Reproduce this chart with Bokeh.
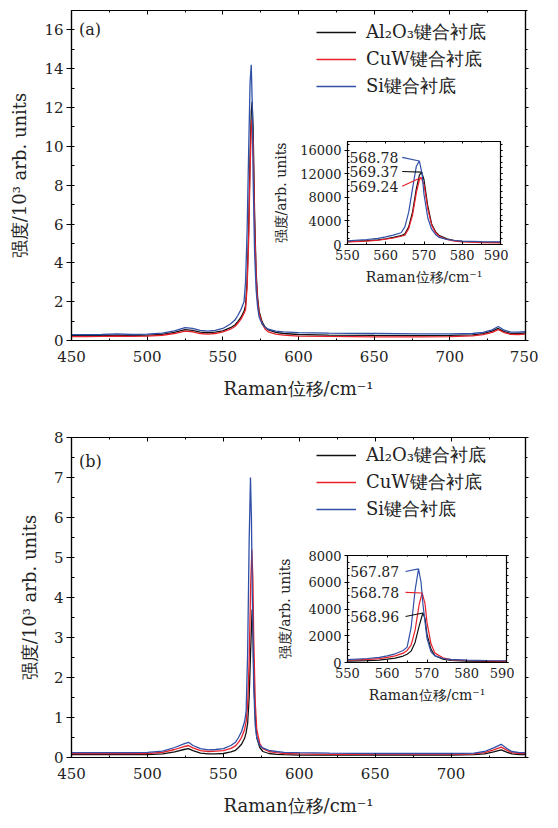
from bokeh.plotting import figure
from bokeh.models import (GridBox, LinearAxis, Legend, LegendItem, Label, Range1d,
                          SingleIntervalTicker, CustomJSTickFormatter)
from bokeh.layouts import column
from bokeh.embed import file_html
from bokeh.resources import INLINE
from bokeh.core.properties import value

SERIF = "DejaVu Serif"
COLORS = ["#111111", "#e8202a", "#3050a8"]
NAMES = ["Al₂O₃键合衬底", "CuW键合衬底", "Si键合衬底"]

# ---------------- panel (a) data, intensity in 10^3 arb. units ----------------
a_al_x = [450, 460, 470, 480, 490, 500, 510, 518, 525, 530, 535, 540, 545, 550, 555, 558, 560, 562, 564, 565,
          566, 567, 568, 568.8, 569.37, 570, 571, 572, 573, 574, 576, 578, 580, 585, 590, 600, 620, 650, 680, 700,
          715, 722, 728, 732, 736, 740, 745, 750]
a_al_y = [0.25, 0.25, 0.26, 0.28, 0.26, 0.28, 0.32, 0.42, 0.56, 0.52, 0.43, 0.40, 0.43, 0.50, 0.66, 0.80, 0.98, 1.20, 1.50, 1.80,
          3.00, 5.50, 9.50, 11.8, 12.3, 11.0, 6.5, 3.5, 2.2, 1.5, 0.95, 0.68, 0.55, 0.42, 0.36, 0.31, 0.28, 0.26, 0.25, 0.26,
          0.29, 0.35, 0.48, 0.62, 0.46, 0.37, 0.36, 0.38]
a_cuw_x = [450, 460, 470, 480, 490, 500, 510, 518, 525, 530, 535, 540, 545, 550, 555, 558, 560, 562, 564, 565,
           566, 567, 568, 568.8, 569.24, 570, 571, 572, 573, 574, 576, 578, 580, 585, 590, 600, 620, 650, 680, 700,
           715, 722, 728, 732, 736, 740, 745, 750]
a_cuw_y = [0.20, 0.20, 0.21, 0.23, 0.21, 0.23, 0.27, 0.36, 0.48, 0.45, 0.36, 0.33, 0.36, 0.44, 0.58, 0.72, 0.90, 1.10, 1.40, 1.60,
           2.70, 5.00, 8.80, 11.0, 11.4, 10.2, 6.0, 3.3, 2.0, 1.4, 0.85, 0.58, 0.45, 0.33, 0.28, 0.23, 0.21, 0.19, 0.19, 0.20,
           0.24, 0.30, 0.42, 0.56, 0.40, 0.32, 0.31, 0.33]
a_si_x = [450, 460, 470, 480, 490, 500, 510, 518, 525, 530, 535, 540, 545, 550, 555, 558, 560, 562, 564, 565,
          566, 567, 568, 568.78, 569.5, 570, 571, 572, 573, 574, 576, 578, 580, 585, 590, 600, 620, 650, 680, 700,
          715, 722, 728, 732, 736, 740, 745, 750]
a_si_y = [0.30, 0.30, 0.31, 0.34, 0.31, 0.33, 0.38, 0.50, 0.66, 0.62, 0.52, 0.48, 0.52, 0.62, 0.85, 1.05, 1.30, 1.60, 2.00, 3.00,
          5.50, 9.50, 13.3, 14.2, 12.0, 8.5, 4.5, 2.6, 1.7, 1.2, 0.85, 0.68, 0.58, 0.48, 0.44, 0.41, 0.38, 0.36, 0.34, 0.34,
          0.36, 0.42, 0.55, 0.72, 0.53, 0.44, 0.43, 0.45]
a_peak_labels = ["568.78", "569.37", "569.24"]   # Si, Al2O3, CuW
a_label_y = [14800, 12400, 9900]                 # label heights in the inset

# ---------------- panel (b) data ----------------
b_al_x = [450, 460, 470, 480, 490, 500, 510, 518, 524, 527, 530, 535, 540, 545, 550, 555, 558, 560, 562, 564,
          565, 566, 567, 568, 568.96, 569.5, 570, 571, 572, 574, 576, 580, 585, 590, 600, 620, 650, 680, 700, 715,
          722, 728, 733, 737, 740, 745, 749]
b_al_y = [0.07, 0.07, 0.07, 0.07, 0.07, 0.07, 0.09, 0.14, 0.20, 0.22, 0.17, 0.11, 0.09, 0.09, 0.10, 0.14, 0.18, 0.25, 0.33, 0.48,
          0.62, 0.85, 1.50, 2.70, 3.70, 3.30, 2.10, 1.00, 0.50, 0.25, 0.15, 0.10, 0.08, 0.07, 0.06, 0.06, 0.06, 0.06, 0.06, 0.07,
          0.09, 0.14, 0.19, 0.13, 0.09, 0.07, 0.07]
b_cuw_x = [450, 460, 470, 480, 490, 500, 510, 518, 524, 527, 530, 535, 540, 545, 550, 555, 558, 560, 562, 564,
           565, 566, 567, 568, 568.78, 569.5, 570, 571, 572, 574, 576, 580, 585, 590, 600, 620, 650, 680, 700, 715,
           722, 728, 733, 737, 740, 745, 749]
b_cuw_y = [0.10, 0.10, 0.10, 0.10, 0.10, 0.10, 0.13, 0.20, 0.27, 0.30, 0.24, 0.17, 0.15, 0.16, 0.17, 0.23, 0.29, 0.38, 0.50, 0.70,
           0.90, 1.30, 2.40, 4.30, 5.20, 4.40, 3.00, 1.40, 0.70, 0.35, 0.22, 0.15, 0.12, 0.10, 0.09, 0.08, 0.08, 0.08, 0.08, 0.09,
           0.12, 0.19, 0.26, 0.18, 0.12, 0.10, 0.10]
b_si_x = [450, 460, 470, 480, 490, 500, 510, 518, 524, 527, 530, 535, 540, 545, 550, 555, 558, 560, 562, 564,
          565, 566, 567, 567.87, 568.5, 569, 570, 571, 572, 574, 576, 580, 585, 590, 600, 620, 650, 680, 700, 715,
          722, 728, 733, 737, 740, 745, 749]
b_si_y = [0.12, 0.12, 0.12, 0.12, 0.12, 0.13, 0.16, 0.25, 0.34, 0.38, 0.30, 0.22, 0.19, 0.20, 0.22, 0.30, 0.38, 0.50, 0.65, 0.90,
          1.15, 2.60, 5.40, 7.00, 6.00, 4.30, 1.80, 0.80, 0.50, 0.30, 0.24, 0.18, 0.15, 0.13, 0.12, 0.11, 0.10, 0.10, 0.10, 0.11,
          0.15, 0.24, 0.33, 0.22, 0.15, 0.12, 0.12]
b_peak_labels = ["567.87", "568.78", "568.96"]   # Si, CuW, Al2O3
b_label_y = [6800, 5240, 3440]

TEXT_COLOR = "#222222"


def style_axis(ax, size, tick_in=0, tick_out=5, minor_in=0, minor_out=3):
    ax.axis_line_color = "black"
    ax.axis_line_width = 1.2
    ax.major_tick_line_color = "black"
    ax.minor_tick_line_color = "black"
    ax.major_tick_in = tick_in
    ax.major_tick_out = tick_out
    ax.minor_tick_in = minor_in
    ax.minor_tick_out = minor_out
    ax.major_label_text_font = SERIF
    ax.major_label_text_font_size = size
    ax.major_label_text_color = TEXT_COLOR
    ax.axis_label_text_font = SERIF
    ax.axis_label_text_font_style = "normal"
    ax.axis_label_text_color = TEXT_COLOR


def blank_axis(p, ticker, loc, tick_in, tick_out, minor_in, minor_out):
    ax = LinearAxis(ticker=ticker, formatter=CustomJSTickFormatter(code="return ''"))
    style_axis(ax, "0px", tick_in, tick_out, minor_in, minor_out)
    ax.major_label_standoff = 0
    p.add_layout(ax, loc)


def main_fig(xend, ytop, yint, height, mb_top, mb_bottom, series, tag, tag_y, leg_loc):
    p = figure(width=538, height=height, x_range=Range1d(450, xend), y_range=Range1d(0, ytop),
               output_backend="svg", toolbar_location=None,
               min_border_left=71, min_border_right=13, min_border_top=mb_top, min_border_bottom=mb_bottom)
    p.xgrid.visible = False
    p.ygrid.visible = False
    p.outline_line_color = "black"
    p.outline_line_width = 1.2
    xt = SingleIntervalTicker(interval=50, num_minor_ticks=2)
    yt = SingleIntervalTicker(interval=yint, num_minor_ticks=2)
    p.xaxis.ticker = xt
    p.yaxis.ticker = yt
    style_axis(p.xaxis[0], "15px", tick_in=4, tick_out=0, minor_in=2, minor_out=0)
    style_axis(p.yaxis[0], "15px", tick_in=0, tick_out=5, minor_in=3, minor_out=0)
    p.xaxis.major_label_standoff = 10
    p.yaxis.major_label_standoff = 3
    p.xaxis.axis_label = "Raman位移/cm⁻¹"
    p.yaxis.axis_label = "强度/10³ arb. units"
    p.xaxis.axis_label_text_font_size = "18px"
    p.yaxis.axis_label_text_font_size = "18px"
    p.xaxis.axis_label_standoff = 13
    p.yaxis.axis_label_standoff = 11
    blank_axis(p, yt, "right", 0, 3, 0, 2)
    blank_axis(p, xt, "above", 4, 0, 2, 0)
    items = []
    for (xs, ys), name, col in zip(series, NAMES, COLORS):
        r = p.line(xs, ys, line_color=col, line_width=1.3)
        items.append(LegendItem(label=name, renderers=[r]))
    leg = Legend(items=items, location=leg_loc, border_line_color=None, background_fill_alpha=0,
                 label_text_font=SERIF, label_text_font_size="18px", label_text_color=TEXT_COLOR,
                 glyph_width=40, glyph_height=20, label_height=20, spacing=3, padding=6,
                 margin=0, label_standoff=10)
    p.add_layout(leg)
    p.add_layout(Label(x=455, y=tag_y, text=tag, text_baseline="middle", text_font=SERIF,
                       text_font_size="16px", text_color=TEXT_COLOR))
    return p


def inset_fig(width, height, mb_left, ytop, yint, series, ylabel_standoff):
    p = figure(width=width, height=height, x_range=Range1d(550, 590), y_range=Range1d(0, ytop),
               output_backend="svg", toolbar_location=None,
               min_border_left=mb_left, min_border_right=8, min_border_top=6, min_border_bottom=46)
    p.border_fill_alpha = 0
    p.background_fill_color = "white"
    p.xgrid.visible = False
    p.ygrid.visible = False
    p.outline_line_color = "black"
    xt = SingleIntervalTicker(interval=10, num_minor_ticks=2)
    yt = SingleIntervalTicker(interval=yint, num_minor_ticks=4)
    p.xaxis.ticker = xt
    p.yaxis.ticker = yt
    style_axis(p.xaxis[0], "13px", tick_in=3, tick_out=0, minor_in=2, minor_out=0)
    style_axis(p.yaxis[0], "13px", tick_in=0, tick_out=3, minor_in=2, minor_out=0)
    p.xaxis.major_label_standoff = 5
    p.yaxis.major_label_standoff = 3
    p.xaxis.axis_label = "Raman位移/cm⁻¹"
    p.yaxis.axis_label = "强度/arb. units"
    p.xaxis.axis_label_text_font_size = "14px"
    p.yaxis.axis_label_text_font_size = "14px"
    p.xaxis.axis_label_standoff = 6
    p.yaxis.axis_label_standoff = ylabel_standoff
    blank_axis(p, yt, "right", 0, 2, 0, 2)
    blank_axis(p, xt, "above", 2, 0, 1, 0)
    peaks = []
    for (xs, ys), col in zip(series, COLORS):
        p.line(xs, [v * 1000 for v in ys], line_color=col, line_width=1.2)
        i = ys.index(max(ys))
        peaks.append((xs[i], ys[i] * 1000, col))
    return p, peaks


def annotate(p, order, labels, label_y, label_x, lead_x):
    for (px, py, col), lab, ly in zip(order, labels, label_y):
        p.segment(x0=[lead_x], y0=[ly], x1=[px], y1=[py], line_color=col, line_width=1.1)
        p.text(x=[label_x], y=[ly], text=[lab], text_align="right", text_baseline="middle",
               text_font=value(SERIF), text_font_size="14px", text_color=TEXT_COLOR)


# ---------------- panel (a) ----------------
ser_a = [(a_al_x, a_al_y), (a_cuw_x, a_cuw_y), (a_si_x, a_si_y)]
pa = main_fig(750, 17, 2, 401, 10, 60, ser_a, "(a)", 16, (245, 242))
ia, pk_a = inset_fig(238, 155, 70, 17500, 4000, ser_a, 8)
annotate(ia, [pk_a[2], pk_a[0], pk_a[1]], a_peak_labels, a_label_y, 563.3, 564.3)
grid_a = GridBox(children=[(pa, 0, 0, 3, 3), (ia, 1, 1)],
                 rows=["135px", "155px", "111px"], cols=["270px", "238px", "30px"], spacing=0)

# ---------------- panel (b) ----------------
ser_b = [(b_al_x, b_al_y), (b_cuw_x, b_cuw_y), (b_si_x, b_si_y)]
pb = main_fig(749, 8, 1, 417, 36, 59, ser_b, "(b)", 7.4, (245, 236))
ib, pk_b = inset_fig(240, 159, 68, 8000, 2000, ser_b, 12)
annotate(ib, [pk_b[2], pk_b[1], pk_b[0]], b_peak_labels, b_label_y, 563.0, 564.6)
grid_b = GridBox(children=[(pb, 0, 0, 3, 3), (ib, 1, 1)],
                 rows=["148px", "159px", "110px"], cols=["274px", "240px", "24px"], spacing=0)

page = column(grid_a, grid_b, spacing=0)
open("out.html", "w").write(file_html(page, INLINE))
